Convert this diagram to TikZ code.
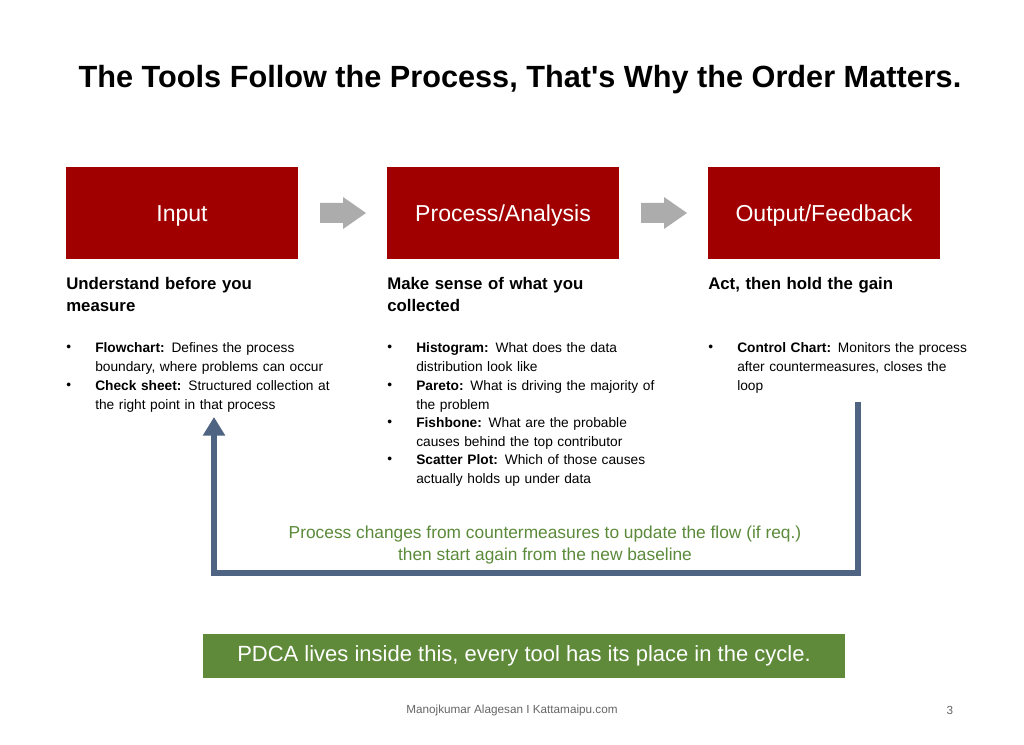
\documentclass[tikz,border=0pt]{standalone}
\usepackage{fontspec}
\setmainfont{Liberation Sans}
\newfontfamily\plainfont{Liberation Sans}
\usetikzlibrary{arrows.meta}
\definecolor{boxred}{HTML}{A00000}
\definecolor{fbblue}{HTML}{4F6483}
\definecolor{txtgreen}{HTML}{5B8A3A}
\definecolor{boxgreen}{HTML}{5E8A3A}
\begin{document}
\begin{tikzpicture}[x=0.75pt,y=-0.75pt,
  stage/.style={fill=boxred,text=white,minimum width=174pt,minimum height=69pt,font=\fontsize{17.3}{20}\selectfont,text depth=0pt,text height=12.5pt},
  head/.style={anchor=north west,align=left,font=\fontsize{12.6}{16.5}\selectfont\bfseries,text width=210pt,inner sep=0pt},
  btxt/.style={anchor=north west,font=\fontsize{10.3}{14.3}\selectfont,text width=193pt,inner sep=0pt},
  bdot/.style={anchor=north west,inner sep=0pt,font=\fontsize{10.3}{14.3}\selectfont}]
\useasboundingbox (0,0) rectangle (1024,745);
\fill[white] (0,0) rectangle (1024,745);
\node[font=\plainfont\fontsize{23}{27}\selectfont\bfseries] (title) at (520,80) {The Tools Follow the Process, That's Why the Order Matters.};
\node[stage] (in) at (182,213) {Input};
\node[stage] (pa) at (503,213) {Process/Analysis};
\node[stage] (of) at (824,213) {Output/Feedback};
\fill[gray!65] (320,203) -- (343,203) -- (343,197) -- (366,213) -- (343,229) -- (343,223) -- (320,223) -- cycle;
\fill[gray!65] (641,203) -- (664,203) -- (664,197) -- (687,213) -- (664,229) -- (664,223) -- (641,223) -- cycle;
\node[head] (h1) at (66,277) {Understand before you\\measure};
\node[head] (h2) at (387,277) {Make sense of what you\\collected};
\node[head] (h3) at (708,277) {Act, then hold the gain};
\newcommand\bt[1]{\raggedright\lefthyphenmin=64 \righthyphenmin=64 \hyphenpenalty=10000 #1\par}
% bullets column 1
\node[bdot] (d11) at (66,345) {•};
\node[btxt] (t11) at (95,342) {\bt{\textbf{Flowchart:} Defines the process boundary, where problems can occur}};
\node[bdot] (d12) at (66,383) {•};
\node[btxt] (t12) at (95,380) {\bt{\textbf{Check sheet:} Structured collection at the right point in that process}};
% column 2
\node[bdot] (d21) at (387,345) {•};
\node[btxt] (t21) at (416,342) {\bt{\textbf{Histogram:} What does the data distribution look like}};
\node[bdot] (d22) at (387,383) {•};
\node[btxt] (t22) at (416,380) {\bt{\textbf{Pareto:} What is driving the majority of the problem}};
\node[bdot] (d23) at (387,420) {•};
\node[btxt] (t23) at (416,417) {\bt{\textbf{Fishbone:} What are the probable causes behind the top contributor}};
\node[bdot] (d24) at (387,457) {•};
\node[btxt] (t24) at (416,454) {\bt{\textbf{Scatter Plot:} Which of those causes actually holds up under data}};
% column 3
\node[bdot] (d31) at (708,345) {•};
\node[btxt,text width=188pt] (t31) at (737,342) {\bt{\textbf{Control Chart:} Monitors the process after countermeasures, closes the\\loop}};
% feedback loop
\coordinate (fs) at (858,402);
\coordinate (fc1) at (858,573);
\coordinate (fc2) at (214,573);
\coordinate (fe) at (214,417);
\draw[fbblue,line width=3.8pt,-{Triangle[length=14pt,width=16pt]}] (fs) -- (fc1) -- (fc2) -- (fe);
\node[text=txtgreen,align=center,font=\fontsize{13}{16.5}\selectfont] (fbtxt) at (545,545) {Process changes from countermeasures to update the flow (if req.)\\then start again from the new baseline};
\node[fill=boxgreen,text=white,minimum width=481.5pt,minimum height=33pt,font=\fontsize{16.5}{19}\selectfont] (pdca) at (524,656) {PDCA lives inside this, every tool has its place in the cycle.};
\node[text=gray!80!black,font=\fontsize{8.8}{10}\selectfont] (foot) at (512,710) {Manojkumar Alagesan I Kattamaipu.com};
\node[text=gray!80!black,font=\fontsize{8.8}{10}\selectfont] (pg) at (950,710) {3};
\end{tikzpicture}
\end{document}
